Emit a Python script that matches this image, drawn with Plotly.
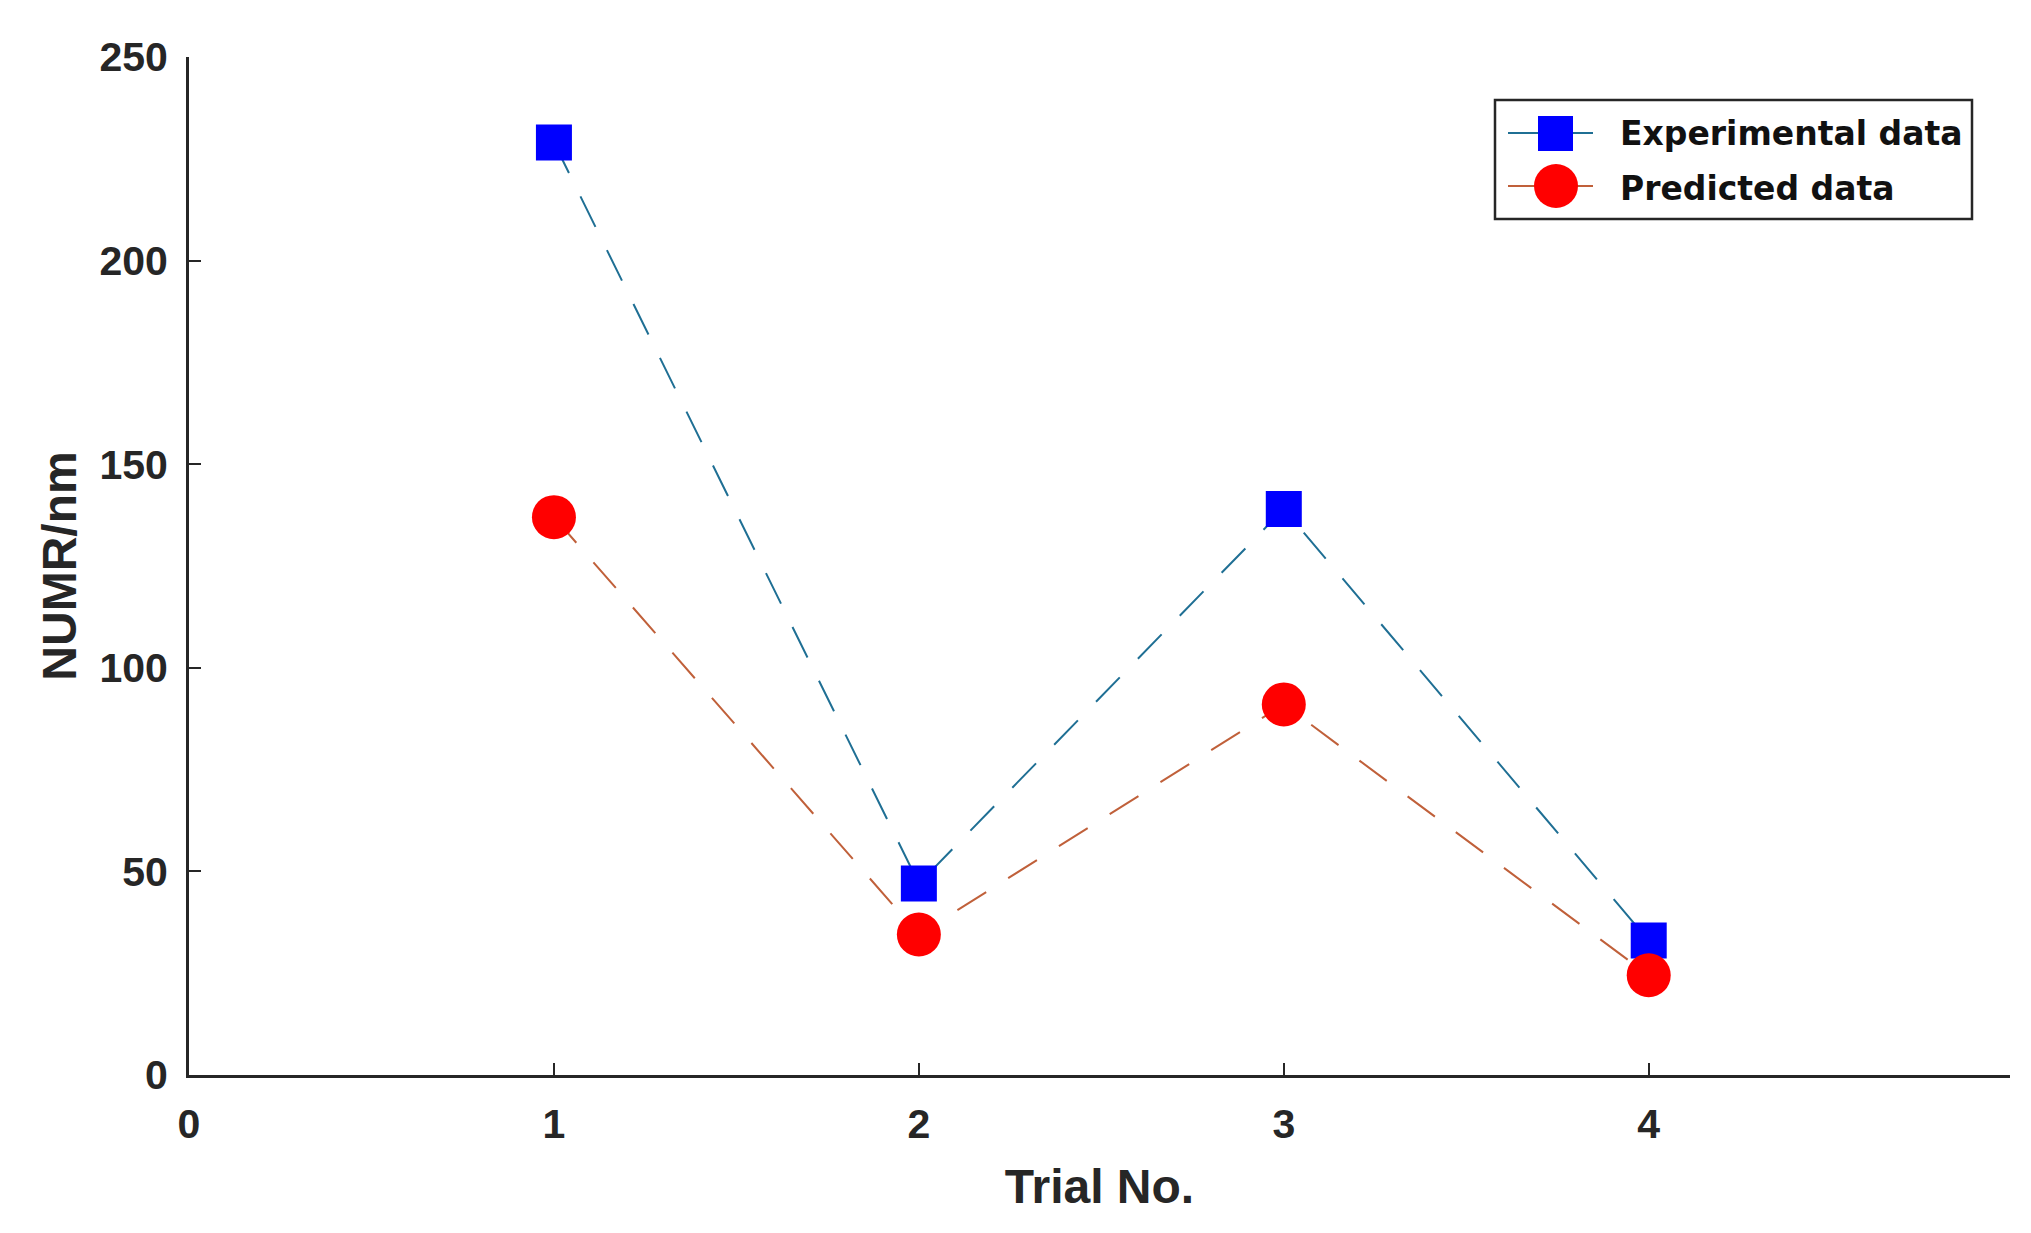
import plotly.graph_objects as go

trials = [1, 2, 3, 4]
experimental = [229, 47, 139, 33]
predicted = [137, 34.5, 91, 24.5]
series_names = ["Experimental data", "Predicted data"]
x_ticks = [0, 1, 2, 3, 4]
y_ticks = [0, 50, 100, 150, 200, 250]

FONT = "Liberation Sans"
LEG_FONT = "DejaVu Sans"
EXP_LINE, PRED_LINE = "#1F6F94", "#C0603A"
EXP_MARK, PRED_MARK = "#0000FF", "#FF0000"
AX = "#262626"

W, H = 2031, 1233
L, R, T, B = 181, 29, 49, 166
PW, PH = W - L - R, H - T - B


def px(X):  # screen x -> paper
    return (X - 8 - L) / PW


def py(Y):  # screen y -> paper
    return (H - B - (Y - 8)) / PH


fig = go.Figure()
fig.add_trace(go.Scatter(
    x=trials, y=experimental, name=series_names[0], mode="lines+markers",
    line=dict(color=EXP_LINE, width=2, dash="34px,26px"),
    marker=dict(symbol="square", size=36, color=EXP_MARK, line=dict(width=0)),
    showlegend=False,
))
fig.add_trace(go.Scatter(
    x=trials, y=predicted, name=series_names[1], mode="lines+markers",
    line=dict(color=PRED_LINE, width=2, dash="34px,26px"),
    marker=dict(symbol="circle", size=44, color=PRED_MARK, line=dict(width=0)),
    showlegend=False,
))

# legend drawn by hand (matches the large MATLAB-style legend symbols)
shapes = [
    dict(type="rect", xref="paper", yref="paper", x0=px(1495), x1=px(1972), y0=py(219), y1=py(100),
         line=dict(color=AX, width=2.5), fillcolor="white", layer="above"),
    dict(type="line", xref="paper", yref="paper", x0=px(1508), x1=px(1593), y0=py(133), y1=py(133),
         line=dict(color=EXP_LINE, width=2), layer="above"),
    dict(type="rect", xref="paper", yref="paper", x0=px(1538), x1=px(1573), y0=py(151), y1=py(116),
         line=dict(width=0), fillcolor=EXP_MARK, layer="above"),
    dict(type="line", xref="paper", yref="paper", x0=px(1508), x1=px(1593), y0=py(186), y1=py(186),
         line=dict(color=PRED_LINE, width=2), layer="above"),
    dict(type="circle", xref="paper", yref="paper", x0=px(1534), x1=px(1578), y0=py(208), y1=py(164),
         line=dict(width=0), fillcolor=PRED_MARK, layer="above"),
]
annotations = [
    dict(xref="paper", yref="paper", x=px(1618), y=py(134), xanchor="left", yanchor="middle",
         text=series_names[0], showarrow=False,
         font=dict(family=LEG_FONT, size=33, color="#111111", weight="bold")),
    dict(xref="paper", yref="paper", x=px(1618), y=py(189), xanchor="left", yanchor="middle",
         text=series_names[1], showarrow=False,
         font=dict(family=LEG_FONT, size=33, color="#111111", weight="bold")),
]

fig.update_layout(
    width=W, height=H,
    margin=dict(l=L, r=R, t=T, b=B),
    paper_bgcolor="white", plot_bgcolor="white",
    font=dict(family=FONT, color=AX, size=41),
    showlegend=False,
    shapes=shapes, annotations=annotations,
)
fig.update_xaxes(
    range=[0, 4.99], tickvals=x_ticks, ticktext=[str(v) for v in x_ticks],
    showgrid=False, zeroline=False,
    showline=True, linecolor=AX, linewidth=3,
    ticks="inside", ticklen=12, tickwidth=2, tickcolor=AX,
    tickfont=dict(family=FONT, size=41, weight="bold", color=AX),
    ticklabelstandoff=11,
    title=dict(text="Trial No.", font=dict(family=FONT, size=48, weight="bold", color=AX), standoff=24),
)
fig.update_yaxes(
    range=[0, 250], tickvals=y_ticks,
    showgrid=False, zeroline=False,
    showline=True, linecolor=AX, linewidth=3,
    ticks="inside", ticklen=12, tickwidth=2, tickcolor=AX,
    tickfont=dict(family=FONT, size=41, weight="bold", color=AX),
    ticklabelstandoff=10,
    title=dict(text="NUMR/nm", font=dict(family=FONT, size=48, weight="bold", color=AX), standoff=8),
)

fig.write_html("out.html")
